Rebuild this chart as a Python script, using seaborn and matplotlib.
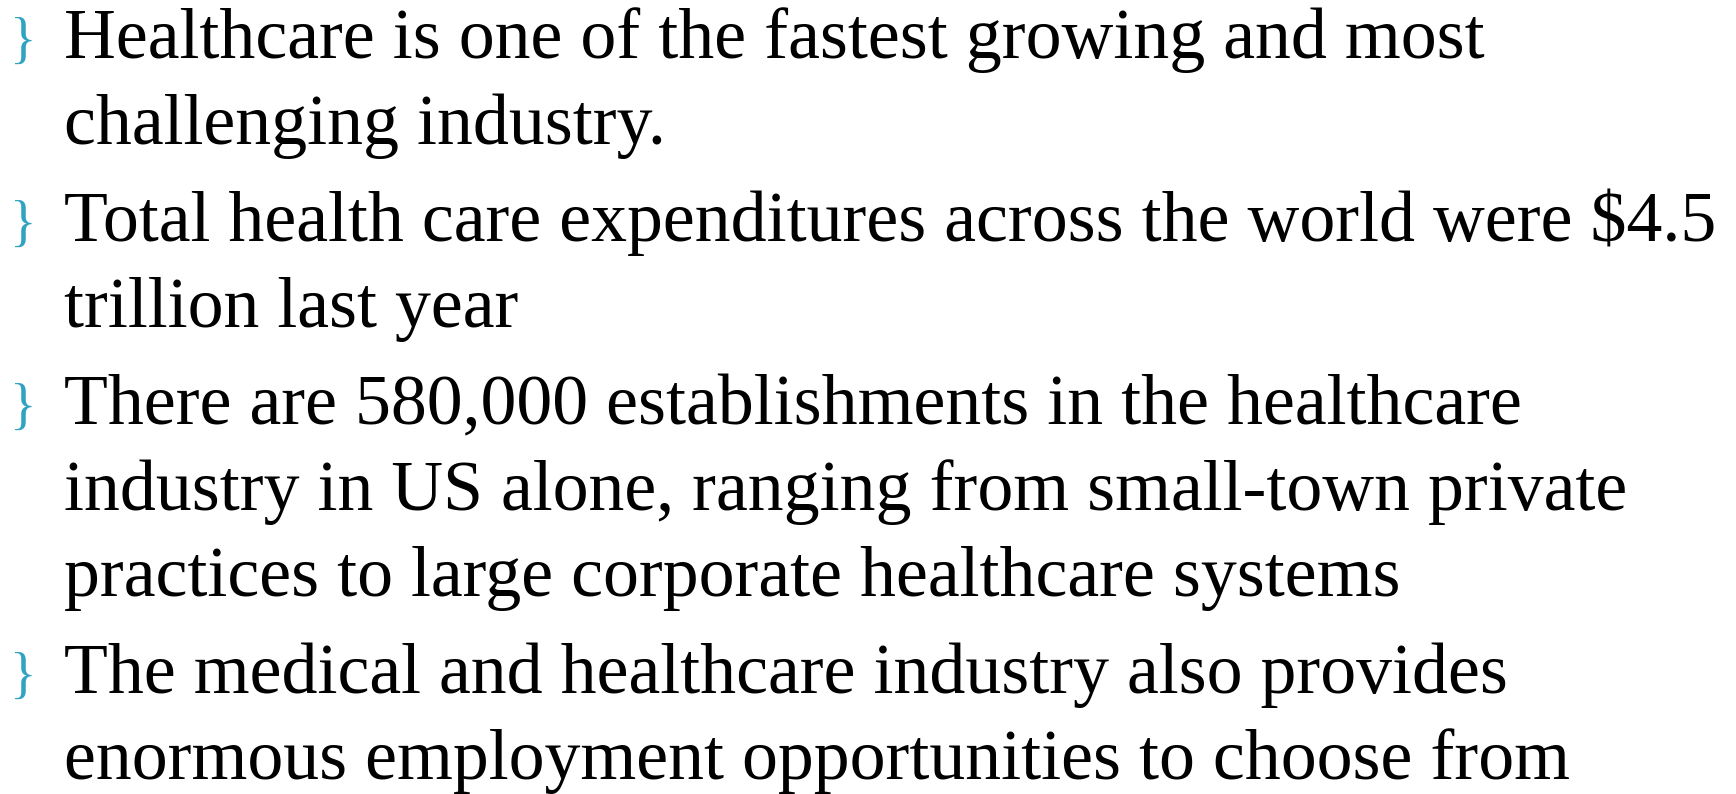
#! /usr/bin/env python3

"""Healthcare industry slide: four bullet points, rebuilt as matplotlib text."""

import seaborn as sns
import matplotlib.pyplot as plt

bullets = [
    ["Healthcare is one of the fastest growing and most",
     "challenging industry."],
    ["Total health care expenditures across the world were $4.5",
     "trillion last year"],
    ["There are 580,000 establishments in the healthcare",
     "industry in US alone, ranging from small-town private",
     "practices to large corporate healthcare systems"],
    ["The medical and healthcare industry also provides",
     "enormous employment opportunities to choose from"],
]
bullet_mark = "}"

W, H = 1736, 794
TEXT_X = 64
MARK_X = 10
FIRST_BASELINE = 58
LINE_STEP = 86
BULLET_GAP = 11
TEXT_SIZE = 51.7
MARK_SIZE = 40
MARK_COLOR = "#2fa3c1"


def main():
    sns.set_style("white")
    plt.rcParams['font.family'] = ['Liberation Serif', 'DejaVu Serif']

    fig = plt.figure(figsize=(W / 100, H / 100), dpi=100)
    ax = fig.add_axes([0, 0, 1, 1])
    ax.set_xlim(0, W)
    ax.set_ylim(H, 0)
    ax.axis("off")

    y = FIRST_BASELINE
    for lines in bullets:
        ax.text(MARK_X, y, bullet_mark, fontsize=MARK_SIZE, color=MARK_COLOR,
                va="baseline", ha="left")
        for line in lines:
            ax.text(TEXT_X, y, line, fontsize=TEXT_SIZE, color="black",
                    va="baseline", ha="left")
            y += LINE_STEP
        y += BULLET_GAP

    fig.savefig("out.png", dpi=100, facecolor="white")


if __name__ == "__main__":
    main()
